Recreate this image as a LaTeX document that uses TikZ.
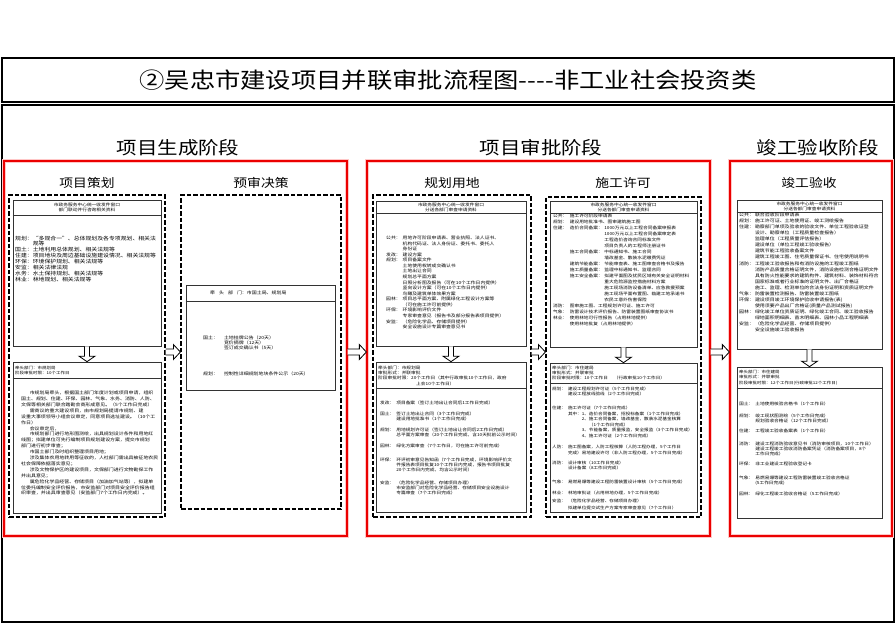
\documentclass[tikz,border=0pt]{standalone}
\usepackage{fontspec}
\setmainfont{Noto Sans CJK SC}[FakeStretch=1.15]
\usetikzlibrary{calc,fit}
\newcommand{\fs}[2]{\fontsize{#1}{#2}\selectfont}
\newcommand{\spantwo}[1]{\multicolumn{2}{@{}l@{}}{#1}}
\newcommand{\spanthree}[1]{\multicolumn{3}{@{}l@{}}{#1}}
\tikzset{
  frame/.style={draw=black, line width=1.3pt, inner sep=0pt},
  redbox/.style={draw=red!92!black, line width=1.3pt, inner sep=0pt,
    preaction={draw=red!22, line width=3.2pt}},
  dbox/.style={draw=black, line width=1.2pt, dash pattern=on 4.5pt off 2pt, inner sep=0pt},
  ibox/.style={draw=black!80, line width=0.7pt, inner sep=0pt},
  sepline/.style={draw=black!80, line width=0.7pt},
  stage/.style={inner sep=0pt, font=\fs{17.8}{20}},
  colhead/.style={inner sep=0pt, font=\fs{12}{14}},
  txt/.style={inner sep=0pt, anchor=base west},
  ctxt/.style={inner sep=0pt, align=center},
  darrow/.style={draw=black, line width=0.8pt, fill=white,
    to path={let \p1=(\tikztostart), \p2=(\tikztotarget) in
      (\x1-2.5pt,\y1) -- (\x1-2.5pt,\y2+5.5pt) -- (\x1-8pt,\y2+5.5pt) -- (\x1,\y2)
      -- (\x1+8pt,\y2+5.5pt) -- (\x1+2.5pt,\y2+5.5pt) -- (\x1+2.5pt,\y1)}},
  rarrow/.style={draw=black, line width=0.8pt, fill=white,
    to path={let \p1=(\tikztostart), \p2=(\tikztotarget) in
      (\x1,\y1+3pt) -- (\x2-7pt,\y1+3pt) -- (\x2-7pt,\y1+7.5pt) -- (\x2,\y1)
      -- (\x2-7pt,\y1-7.5pt) -- (\x2-7pt,\y1-3pt) -- (\x1,\y1-3pt)}}
}
\begin{document}
\begin{tikzpicture}[x=1pt,y=-1pt]
\useasboundingbox (0,0) rectangle (896,624);
\fill[white] (0,0) rectangle (896,624);

% frames
\node[frame, fit={(2,58) (894,102)}] (TB) {};
\node[frame, fit={(2,105) (894,622)}] (MB) {};
\node[inner sep=0pt, font=\fs{22}{26}] (title) at (TB.center) {②吴忠市建设项目并联审批流程图-{}-{}-{}-非工业社会投资类};

% stage headings
\node[stage] (S1) at (178,148) {项目生成阶段};
\node[stage] (S2) at (541,148) {项目审批阶段};
\node[stage] (S3) at (818,148) {竣工验收阶段};

% red stage boxes
\node[redbox, fit={(4,161) (347,536)}] (R1) {};
\node[redbox, fit={(367,161) (710,536)}] (R2) {};
\node[redbox, fit={(730,161) (892,536)}] (R3) {};

% column headings
\node[colhead] (H1) at (87,183) {项目策划};
\node[colhead] (H2) at (261,183) {预审决策};
\node[colhead] (H3) at (452,183) {规划用地};
\node[colhead] (H4) at (623,183) {施工许可};
\node[colhead] (H5) at (809,183) {竣工验收};

% dashed columns
\node[dbox, fit={(9,195) (165,517)}] (D1) {};
\node[dbox, fit={(181,195) (341,509)}] (D2) {};
\node[dbox, fit={(373,195) (531,517)}] (D3) {};
\node[dbox, fit={(546,197) (701,517)}] (D4) {};

% inner boxes
\node[ibox, fit={(13,200) (161,346)}] (U1) {};
\node[ibox, fit={(13,362) (161,513)}] (L1) {};
\node[ibox, fit={(186,285) (335,390)}] (B2) {};
\node[ibox, fit={(376,201) (526,346)}] (U3) {};
\node[ibox, fit={(376,362) (526,512)}] (L3) {};
\node[ibox, fit={(550,201) (697,347)}] (U4) {};
\node[ibox, fit={(550,363) (697,512)}] (L4) {};
\node[ibox, fit={(737,200) (882,349)}] (U5) {};
\node[ibox, fit={(737,367) (882,518)}] (L5) {};

% header separators
\draw[sepline] (U1.west |- 0,215) -- (U1.east |- 0,215);
\draw[sepline] (L1.west |- 0,378) -- (L1.east |- 0,378);
\draw[sepline] (B2.west |- 0,301) -- (B2.east |- 0,301);
\draw[sepline] (U3.west |- 0,213) -- (U3.east |- 0,213);
\draw[sepline] (L3.west |- 0,388) -- (L3.east |- 0,388);
\draw[sepline] (U4.west |- 0,213) -- (U4.east |- 0,213);
\draw[sepline] (L4.west |- 0,383) -- (L4.east |- 0,383);
\draw[sepline] (U5.west |- 0,212) -- (U5.east |- 0,212);
\draw[sepline] (L5.west |- 0,388) -- (L5.east |- 0,388);

% arrows
\coordinate (ay) at (0,352);
\draw[rarrow] (D1.east |- ay) to (D2.west |- ay);
\draw[rarrow] (R1.east |- ay) to (R2.west |- ay);
\draw[rarrow] (D3.east |- ay) to (D4.west |- ay);
\draw[rarrow] (R2.east |- ay) to (R3.west |- ay);
\draw[darrow] (U1.south) to (L1.north);
\draw[darrow] (U3.south) to (L3.north);
\draw[darrow] (U4.south) to (L4.north);
\draw[darrow] (U5.south) to (L5.north);

% ---------- column 1 ----------
\node[ctxt, font=\fs{4.1}{5.5}] (u1h) at (87,207.5) {市政务服务中心统一收发件窗口\\部门联动并行咨询相关资料};
\node[txt, font=\fs{5.1}{5.5}] (u1b) at (15,240) {\begin{tabular}[t]{@{}l@{}l@{}}
规划：&“多规合一”、总体规划及各专项规划、相关法\\
&规等\\
国土：&土地利用总体规划、相关法规等\\
住建：&项目地块及周边基础设施建设情况、相关法规等\\
环保：&环境保护规划、相关法规等\\
安监：&相关法律法规\\
水务：&水土保持规划、相关法规等\\
林业：&林地规划、相关法规等
\end{tabular}};
\node[txt, font=\fs{3.9}{5}] (l1h) at (15,369.5) {\begin{tabular}[t]{@{}l@{}}
牵头部门：市规划局\\
阶段审批时限：10个工作日
\end{tabular}};
\node[txt, font=\fs{4.3}{5.9}] (l1b) at (21,394.6) {\begin{tabular}[t]{@{}l@{}}
\hspace*{2em}市规划局牵头，根据国土部门年度计划或项目申请，组织\\
国土、规划、住建、环保、园林、气象、水务、消防、人防、\\
文保等相关部门联合踏勘会商形成意见。（5个工作日完成）\\
\hspace*{2em}需商议的重大建设项目，由市规划局提请市规划、建\\
设重大事项领导小组会议审定，同意项目选址建设。（10个工\\
作日）\\
\hspace*{2em}会议审定后，\\
\hspace*{2em}市规划部门进行地形图测绘，出具规划设计条件和用地红\\
线图；拟建单位可先行编制项目规划建设方案，提交市规划\\
部门进行初步审查；\\
\hspace*{2em}市国土部门及时组织整理项目用地；\\
\hspace*{2em}涉及集体农用地转用等征收的，人社部门需出具被征地农民\\
社会保障依据落实意见；\\
\hspace*{2em}涉及文物保护区的建设项目，文保部门进行文物勘探工作\\
并出具意见；\\
\hspace*{2em}属危险化学品经营、存储项目（加油加气站等），拟建单\\
位委托编制安全评价报告，市安监部门对项目安全评价报告组\\
织审查，并出具审查意见（安监部门7个工作日内完成）。
\end{tabular}};

% ---------- column 2 ----------
\node[txt, font=\fs{4.3}{5}] (b2h) at (210,294.5) {牵\hspace{4pt}头\hspace{4pt}部\hspace{4pt}门：市国土局、规划局};
\node[txt, font=\fs{4.3}{5}] (b2b) at (203,339.5) {\begin{tabular}[t]{@{}l@{\hspace{6pt}}l@{}}
国土：&土地挂牌公告（20天）\\
&竞价摘牌（12天）\\
&签订成交确认书（5天）\\[20pt]
规划：&控制性详细规划地块条件公示（20天）
\end{tabular}};

% ---------- column 3 ----------
\node[ctxt, font=\fs{4.1}{5}] (u3h) at (451,207) {市政务服务中心统一收发件窗口\\分送各部门审查申请资料};
\node[txt, font=\fs{4.2}{5.56}] (u3b) at (386,239.6) {\begin{tabular}[t]{@{}l@{\hspace{2pt}}l@{}}
公共：&用地许可阶段申请表、营业执照、法人证书、\\
&机构代码证、法人身份证、委托书、委托人\\
&身份证\\
发改：&建设方案\\
规划：&项目备案文件\\
&土地使用权转成交确认书\\
&土地出让合同\\
&规划总平面方案\\
&日照分析图及报告（可在10个工作日内提供）\\
&竖向设计方案（可在10个工作日内提供）\\
&鸟瞰及建筑单体效果方案\\
园林：&项目总平面方案、附属绿化工程设计方案等\\
&（可在施工许可前提供）\\
环保：&环境影响评价文件\\
&专家审查意见（报告书及部分报告表项目提供）\\
安监：&（危险化学品、存储项目提供）\\
&安全设施设计专篇审查意见书
\end{tabular}};
\node[txt, font=\fs{4.1}{5.3}] (l3h) at (378,369.1) {\begin{tabular}[t]{@{}l@{}}
牵头部门：市规划局\\
审批形式：并联审批\\
阶段审批时限：20个工作日（其中行政审批10个工作日，政府\\
\hspace*{38pt}上会10个工作日）
\end{tabular}};
\node[txt, font=\fs{4.1}{4.6}] (l3a) at (380,404.5) {\begin{tabular}[t]{@{}l@{\hspace{2pt}}l@{}}
发改：&项目备案（签订土地出让合同后1工作日完成）
\end{tabular}};
\node[txt, font=\fs{4.1}{4.6}] (l3b) at (380,415.5) {\begin{tabular}[t]{@{}l@{\hspace{2pt}}l@{}}
国土：&签订土地出让合同（3个工作日完成）\\
&建设用地批准书（1个工作日完成）
\end{tabular}};
\node[txt, font=\fs{4.1}{4.6}] (l3c) at (380,431.5) {\begin{tabular}[t]{@{}l@{\hspace{2pt}}l@{}}
规划：&用地规划许可证（签订土地出让合同后2工作日完成）\\
&总平面方案审查（20个工作日完成，含10天批前公示时间）
\end{tabular}};
\node[txt, font=\fs{4.1}{4.6}] (l3d) at (380,447.5) {\begin{tabular}[t]{@{}l@{\hspace{2pt}}l@{}}
园林：&绿化方案审查（7个工作日，可在施工许可前完成）
\end{tabular}};
\node[txt, font=\fs{4.1}{4.6}] (l3e) at (380,461.5) {\begin{tabular}[t]{@{}l@{\hspace{2pt}}l@{}}
环保：&环评初审意见告知函（7个工作日完成，环境影响评价文\\
&件报告表项目批复10个工作日内完成，报告书项目批复\\
&20个工作日内完成，均含公示时间）
\end{tabular}};
\node[txt, font=\fs{4.1}{4.6}] (l3f) at (380,484.5) {\begin{tabular}[t]{@{}l@{\hspace{2pt}}l@{}}
安监：&（危险化学品经营、存储项目办理）\\
&市安监部门对危险化学品经营、存储项目安全设施设计\\
&专篇审查（7个工作日完成）
\end{tabular}};

% ---------- column 4 ----------
\node[ctxt, font=\fs{4.1}{5}] (u4h) at (623.5,207) {市政务服务中心统一收发件窗口\\分送各部门审查申请资料};
\node[txt, font=\fs{4.1}{6}] (u4b) at (553,217.5) {\begin{tabular}[t]{@{}l@{\hspace{2.5pt}}l@{\hspace{1.5pt}}l@{}}
公共：&\spantwo{施工许可阶段申请表}\\
规划：&\spantwo{建设用地批准书、图审建筑施工图}\\
住建：&造价合同备案：&1000万元以上工程合同备案申报表\\
&&1000万元以上工程合同备案审定表\\
&&工程造价咨询合同标准文件\\
&&项目负责人的工程师注册证书\\
&施工合同备案：&中标通知书、施工合同\\
&&墙改基金、散装水泥缴费凭证\\
&建筑节能备案：&节能审查表、施工图审查合格书及报告\\
&施工质量备案：&监理中标通知书、监理合同\\
&施工安全备案：&拟建平面图及扰民区域有关安全证明材料\\
&&重大危险源监控措施材料方案\\
&&施工现场消防设备清单、应急救援预案\\
&&施工现场平面布置图、临建工地承诺书\\
&&农民工意外伤害保险\\
消防：&\spantwo{图审施工图、工程规划许可证、施工许可}\\
气象：&\spantwo{防雷设计技术评价报告、防雷装置图纸审查协议书}\\
林业：&\spantwo{使用林地可行性报告（占用林地提供）}\\
&\spantwo{使用林地批复（占用林地提供）}
\end{tabular}};
\node[txt, font=\fs{4.0}{5}] (l4h) at (552,369.5) {\begin{tabular}[t]{@{}l@{}}
牵头部门：市住建局\\
审批形式：并联审批\\
阶段审批时限：10个工作日\hspace{6pt}（行政审批10个工作日）
\end{tabular}};
\node[txt, font=\fs{4.0}{5.2}] (l4a) at (552,390) {\begin{tabular}[t]{@{}l@{\hspace{2pt}}l@{}}
规划：&建设工程规划许可证（5个工作日完成）\\
&建设工程放线验线（2个工作日完成）
\end{tabular}};
\node[txt, font=\fs{4.0}{5.6}] (l4b) at (552,409.5) {\begin{tabular}[t]{@{}l@{\hspace{2pt}}l@{}l@{}l@{}}
住建：&\spanthree{施工许可证（7个工作日完成）}\\
&其中：&1、&造价合同备案，招投标备案（1个工作日完成）\\
&&2、&施工合同备案，墙改基金，散装水泥基金核算\\
&&&（1个工作日完成）\\
&&3、&节能备案，质量报监，安全报监（3个工作日完成）\\
&&4、&施工许可证（2个工作日完成）
\end{tabular}};
\node[txt, font=\fs{4.0}{5.6}] (l4c) at (552,448.5) {\begin{tabular}[t]{@{}l@{\hspace{2pt}}l@{}}
人防：&施工图备案，人防工程核算（人防工程办理，5个工作日\\
&完成）易地建设许可（非人防工程办理，5个工作日完成）
\end{tabular}};
\node[txt, font=\fs{4.0}{5.6}] (l4d) at (552,464) {\begin{tabular}[t]{@{}l@{\hspace{2pt}}l@{}}
消防：&设计审核（10工作日完成）\\
&设计备案（8工作日完成）
\end{tabular}};
\node[txt, font=\fs{4.0}{5.6}] (l4e) at (552,483) {\begin{tabular}[t]{@{}l@{\hspace{2pt}}l@{}}
气象：&易燃易爆等建设工程防雷装置设计审核（5个工作日完成）
\end{tabular}};
\node[txt, font=\fs{4.0}{5.6}] (l4f) at (552,494) {\begin{tabular}[t]{@{}l@{\hspace{2pt}}l@{}}
林业：&林地审批证（占用林地办理，5个工作日完成）
\end{tabular}};
\node[txt, font=\fs{4.0}{7}] (l4g) at (552,502.5) {\begin{tabular}[t]{@{}l@{\hspace{2pt}}l@{}}
安监：&（危险化学品经营、存储项目办理）\\
&拟建单位提交试生产方案专家审查意见（7个工作日）
\end{tabular}};

% ---------- column 5 ----------
\node[ctxt, font=\fs{4.1}{5}] (u5h) at (809.5,206) {市政务服务中心统一收发件窗口\\分送各部门审查申请资料};
\node[txt, font=\fs{4.3}{6.05}] (u5b) at (739,216.6) {\begin{tabular}[t]{@{}l@{\hspace{1pt}}l@{}}
公共：&联合验收阶段申请表\\
规划：&施工许可证、土地使用证、竣工测绘报告\\
住建：&勘察部门单项及验收的验收文件、单位工程验收证登\\
&设计、勘察单位（工程质量检查报告）\\
&监理单位（工程质量评估报告）\\
&建设单位（单位工程竣工验收报告）\\
&建筑节能工程验收备案文件\\
&建筑工程竣工图、住宅质量保证书、住宅使用说明书\\
消防：&工程竣工验收报告和有消防设施的工程竣工图纸\\
&消防产品质量合格证明文件，消防设施检测合格证明文件\\
&具有防火性能要求的建筑构件、建筑材料、装饰材料符合\\
&国家标准或者行业标准的证明文件、出厂合格证\\
&施工、监理、检测单位的合法身份证明和资质证明文件\\
气象：&防雷装置检测报告、防雷装置竣工图纸\\
环保：&建设项目竣工环境保护验收申请报告(表)\\
&使用须要产品出厂合格证(质量产品测试报告)\\
园林：&绿化竣工单位资质证明、绿化竣工合同、竣工验收报告\\
&绿地面积明细表、苗木明细表、园林小品工程明细表\\
安监：&（危险化学品经营、存储项目提供）\\
&安全设施竣工验收报告
\end{tabular}};
\node[txt, font=\fs{3.9}{5.3}] (l5h) at (739,373.5) {\begin{tabular}[t]{@{}l@{}}
牵头部门：市住建局\\
审批形式：并联审批\\
阶段审批时限：12个工作日(行政审批12个工作日)
\end{tabular}};
\node[txt, font=\fs{4.1}{4.5}] (l5a) at (739,405.5) {\begin{tabular}[t]{@{}l@{\hspace{2pt}}l@{}}
国土：&土地使用核验合格书（1个工作日）
\end{tabular}};
\node[txt, font=\fs{4.1}{4.5}] (l5b) at (739,417.5) {\begin{tabular}[t]{@{}l@{\hspace{2pt}}l@{}}
规划：&竣工现状图测绘（5个工作日完成）\\
&规划验收合格证（12个工作日完成）
\end{tabular}};
\node[txt, font=\fs{4.1}{4.5}] (l5c) at (739,432.5) {\begin{tabular}[t]{@{}l@{\hspace{2pt}}l@{}}
住建：&工程竣工验收备案表（1个工作日）
\end{tabular}};
\node[txt, font=\fs{4.1}{4.5}] (l5d) at (739,445.5) {\begin{tabular}[t]{@{}l@{\hspace{2pt}}l@{}}
消防：&建设工程消防验收意见书（消防审核项目，10个工作日）\\
&建设工程竣工验收消防备案凭证（消防备案项目，8个\\
&工作日完成）
\end{tabular}};
\node[txt, font=\fs{4.1}{4.5}] (l5e) at (739,465.5) {\begin{tabular}[t]{@{}l@{\hspace{2pt}}l@{}}
环保：&非工业建设工程验收登记卡
\end{tabular}};
\node[txt, font=\fs{4.1}{4.5}] (l5f) at (739,479.5) {\begin{tabular}[t]{@{}l@{\hspace{2pt}}l@{}}
气象：&易燃易爆等建设工程防雷装置竣工验收合格证\\
&(5工作日完成)
\end{tabular}};
\node[txt, font=\fs{4.1}{4.5}] (l5g) at (739,495.5) {\begin{tabular}[t]{@{}l@{\hspace{2pt}}l@{}}
园林：&绿化工程竣工验收合格证（5工作日完成）
\end{tabular}};
\end{tikzpicture}
\end{document}
